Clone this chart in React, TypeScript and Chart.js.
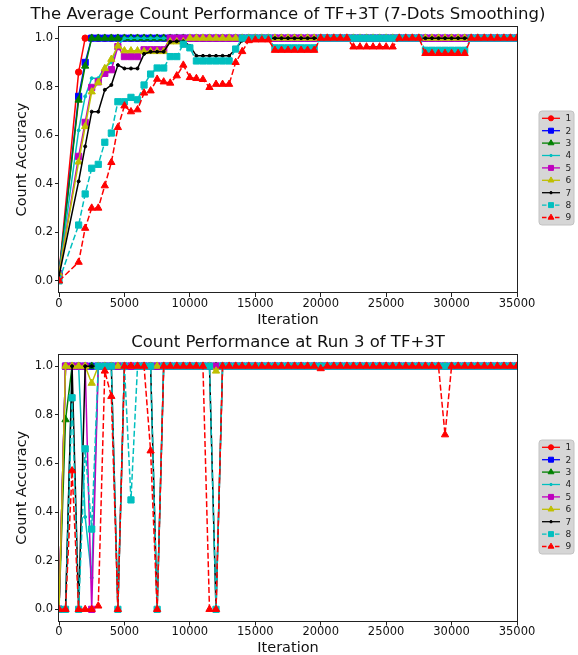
import { useEffect, useRef } from "react";
import { Chart, registerables } from "chart.js";

Chart.register(...registerables);

const FONT = "'DejaVu Sans', 'Liberation Sans', sans-serif";
Chart.defaults.font.family = FONT;

const TOP_TITLE = "The Average Count Performance of TF+3T (7-Dots Smoothing)";
const BOTTOM_TITLE = "Count Performance at Run 3 of TF+3T";
const X_LABEL = "Iteration";
const Y_LABEL = "Count Accuracy";
const SERIES_NAMES = ["1", "2", "3", "4", "5", "6", "7", "8", "9"];
const X_TICKS = [0, 5000, 10000, 15000, 20000, 25000, 30000, 35000];
const Y_TICKS = [0, 0.2, 0.4, 0.6, 0.8, 1.0];

// ---------- top chart (7-dots smoothing) ----------
const X_TOP = [
  0, 1500, 2000, 2500, 3000, 3500, 4000, 4500, 5000, 5500,
  6000, 6500, 7000, 7500, 8000, 8500, 9000, 9500, 10000, 10500,
  11000, 11500, 12000, 12500, 13000, 13500, 14000, 14500, 15000, 15500,
  16000, 16500, 17000, 17500, 18000, 18500, 19000, 19500, 20000, 20500,
  21000, 21500, 22000, 22500, 23000, 23500, 24000, 24500, 25000, 25500,
  26000, 26500, 27000, 27500, 28000, 28500, 29000, 29500, 30000, 30500,
  31000, 31500, 32000, 32500, 33000, 33500, 34000, 34500, 35000,
];
const T1 = [
  0.03, 0.86, 1, 1, 1, 1, 1, 1, 1, 1,
  1, 1, 1, 1, 1, 1, 1, 1, 1, 1,
  1, 1, 1, 1, 1, 1, 1, 1, 1, 1,
  1, 1, 1, 1, 1, 1, 1, 1, 1, 1,
  1, 1, 1, 1, 1, 1, 1, 1, 1, 1,
  1, 1, 1, 1, 1, 1, 1, 1, 1, 1,
  1, 1, 1, 1, 1, 1, 1, 1, 1,
];
const T2 = [
  0.03, 0.76, 0.9, 1, 1, 1, 1, 1, 1, 1,
  1, 1, 1, 1, 1, 1, 1, 1, 1, 1,
  1, 1, 1, 1, 1, 1, 1, 1, 1, 1,
  1, 1, 1, 1, 1, 1, 1, 1, 1, 1,
  1, 1, 1, 1, 1, 1, 1, 1, 1, 1,
  1, 1, 1, 1, 1, 1, 1, 1, 1, 1,
  1, 1, 1, 1, 1, 1, 1, 1, 1,
];
const T3 = [
  0.03, 0.745, 0.885, 1, 1, 1, 1, 1, 1, 1,
  1, 1, 1, 1, 1, 1, 1, 1, 1, 1,
  1, 1, 1, 1, 1, 1, 1, 1, 1, 1,
  1, 1, 1, 1, 1, 1, 1, 1, 1, 1,
  1, 1, 1, 1, 1, 1, 1, 1, 1, 1,
  1, 1, 1, 1, 1, 1, 1, 1, 1, 1,
  1, 1, 1, 1, 1, 1, 1, 1, 1,
];
const T4 = [
  0.03, 0.62, 0.76, 0.835, 0.835, 0.88, 0.9, 0.97, 1, 1,
  1, 1, 1, 1, 1, 1, 1, 1, 1, 1,
  1, 1, 1, 1, 1, 1, 1, 1, 1, 1,
  1, 1, 1, 1, 1, 1, 1, 1, 1, 1,
  1, 1, 1, 1, 1, 1, 1, 1, 1, 1,
  1, 1, 1, 1, 1, 1, 1, 1, 1, 1,
  1, 1, 1, 1, 1, 1, 1, 1, 1,
];
const T5 = [
  0.03, 0.513, 0.653, 0.797, 0.82, 0.855, 0.87, 0.965, 0.924, 0.924,
  0.924, 0.952, 0.952, 0.952, 0.952, 1, 1, 1, 1, 1,
  1, 1, 1, 1, 1, 1, 1, 1, 1, 1,
  1, 1, 1, 1, 1, 1, 1, 1, 1, 1,
  1, 1, 1, 1, 1, 1, 1, 1, 1, 1,
  1, 1, 1, 1, 1, 1, 1, 1, 1, 1,
  1, 1, 1, 1, 1, 1, 1, 1, 1,
];
const T6 = [
  0.03, 0.49, 0.636, 0.779, 0.817, 0.875, 0.913, 0.968, 0.948, 0.948,
  0.948, 0.945, 0.945, 0.945, 0.945, 0.985, 0.985, 0.985, 1, 1,
  1, 1, 1, 1, 1, 1, 1, 1, 1, 1,
  1, 1, 1, 1, 1, 1, 1, 1, 1, 1,
  1, 1, 1, 1, 1, 1, 1, 1, 1, 1,
  1, 1, 1, 1, 1, 1, 1, 1, 1, 1,
  1, 1, 1, 1, 1, 1, 1, 1, 1,
];
const T7 = [
  0.02, 0.41, 0.554, 0.697, 0.697, 0.787, 0.807, 0.889, 0.875, 0.875,
  0.875, 0.935, 0.944, 0.944, 0.944, 0.985, 0.987, 0.987, 0.968, 0.927,
  0.927, 0.927, 0.927, 0.927, 0.927, 0.955, 0.99, 1, 1, 1,
  1, 1, 1, 1, 1, 1, 1, 1, 1, 1,
  1, 1, 1, 1, 1, 1, 1, 1, 1, 1,
  1, 1, 1, 1, 1, 1, 1, 1, 1, 1,
  1, 1, 1, 1, 1, 1, 1, 1, 1,
];
const T8 = [
  0, 0.23, 0.358, 0.464, 0.48, 0.571, 0.609, 0.738, 0.738, 0.756,
  0.746, 0.807, 0.852, 0.877, 0.877, 0.924, 0.924, 0.975, 0.96, 0.906,
  0.906, 0.906, 0.906, 0.906, 0.906, 0.955, 1, 1, 1, 1,
  1, 0.96, 0.96, 0.96, 0.96, 0.96, 0.96, 0.96, 1, 1,
  1, 1, 1, 1, 1, 1, 1, 1, 1, 1,
  1, 1, 1, 1, 0.95, 0.95, 0.95, 0.95, 0.95, 0.95,
  0.95, 1, 1, 1, 1, 1, 1, 1, 1,
];
const T9 = [
  0, 0.077, 0.217, 0.3, 0.3, 0.392, 0.488, 0.632, 0.721, 0.697,
  0.705, 0.774, 0.783, 0.831, 0.82, 0.815, 0.845, 0.889, 0.838, 0.834,
  0.83, 0.797, 0.81, 0.81, 0.81, 0.9, 0.945, 0.99, 0.993, 0.993,
  0.993, 0.95, 0.95, 0.95, 0.95, 0.95, 0.95, 0.95, 1, 1,
  1, 1, 1, 0.964, 0.964, 0.964, 0.964, 0.964, 0.964, 0.964,
  1, 1, 1, 1, 0.937, 0.937, 0.937, 0.937, 0.937, 0.937,
  0.937, 1, 1, 1, 1, 1, 1, 1, 1,
];

// ---------- bottom chart (run 3, raw) ----------
const X_BOT = [
  0, 500, 1000, 1500, 2000, 2500, 3000, 3500, 4000, 4500,
  5000, 5500, 6000, 6500, 7000, 7500, 8000, 8500, 9000, 9500,
  10000, 10500, 11000, 11500, 12000, 12500, 13000, 13500, 14000, 14500,
  15000, 15500, 16000, 16500, 17000, 17500, 18000, 18500, 19000, 19500,
  20000, 20500, 21000, 21500, 22000, 22500, 23000, 23500, 24000, 24500,
  25000, 25500, 26000, 26500, 27000, 27500, 28000, 28500, 29000, 29500,
  30000, 30500, 31000, 31500, 32000, 32500, 33000, 33500, 34000, 34500,
  35000,
];
const B1 = [
  0, 1, 1, 1, 1, 1, 1, 1, 1, 1,
  1, 1, 1, 1, 1, 1, 1, 1, 1, 1,
  1, 1, 1, 1, 1, 1, 1, 1, 1, 1,
  1, 1, 1, 1, 1, 1, 1, 1, 1, 1,
  1, 1, 1, 1, 1, 1, 1, 1, 1, 1,
  1, 1, 1, 1, 1, 1, 1, 1, 1, 1,
  1, 1, 1, 1, 1, 1, 1, 1, 1, 1,
  1,
];
const B2 = [
  0, 1, 1, 1, 1, 1, 1, 1, 1, 1,
  1, 1, 1, 1, 1, 1, 1, 1, 1, 1,
  1, 1, 1, 1, 1, 1, 1, 1, 1, 1,
  1, 1, 1, 1, 1, 1, 1, 1, 1, 1,
  1, 1, 1, 1, 1, 1, 1, 1, 1, 1,
  1, 1, 1, 1, 1, 1, 1, 1, 1, 1,
  1, 1, 1, 1, 1, 1, 1, 1, 1, 1,
  1,
];
const B3 = [
  0, 0.78, 1, 1, 1, 1, 1, 1, 1, 1,
  1, 1, 1, 1, 1, 1, 1, 1, 1, 1,
  1, 1, 1, 1, 1, 1, 1, 1, 1, 1,
  1, 1, 1, 1, 1, 1, 1, 1, 1, 1,
  1, 1, 1, 1, 1, 1, 1, 1, 1, 1,
  1, 1, 1, 1, 1, 1, 1, 1, 1, 1,
  1, 1, 1, 1, 1, 1, 1, 1, 1, 1,
  1,
];
const B4 = [
  0, 0, 1, 1, 0.38, 0.13, 1, 1, 1, 1,
  1, 1, 1, 1, 1, 1, 1, 1, 1, 1,
  1, 1, 1, 1, 1, 1, 1, 1, 1, 1,
  1, 1, 1, 1, 1, 1, 1, 1, 1, 1,
  1, 1, 1, 1, 1, 1, 1, 1, 1, 1,
  1, 1, 1, 1, 1, 1, 1, 1, 1, 1,
  1, 1, 1, 1, 1, 1, 1, 1, 1, 1,
  1,
];
const B5 = [
  0, 1, 1, 1, 1, 0, 1, 1, 1, 1,
  1, 1, 1, 1, 1, 1, 1, 1, 1, 1,
  1, 1, 1, 1, 1, 1, 1, 1, 1, 1,
  1, 1, 1, 1, 1, 1, 1, 1, 1, 1,
  1, 1, 1, 1, 1, 1, 1, 1, 1, 1,
  1, 1, 1, 1, 1, 1, 1, 1, 1, 1,
  1, 1, 1, 1, 1, 1, 1, 1, 1, 1,
  1,
];
const B6 = [
  0, 1, 1, 1, 1, 0.93, 1, 1, 1, 1,
  1, 1, 1, 1, 1, 1, 1, 1, 1, 1,
  1, 1, 1, 1, 0.98, 1, 1, 1, 1, 1,
  1, 1, 1, 1, 1, 1, 1, 1, 1, 1,
  1, 1, 1, 1, 1, 1, 1, 1, 1, 1,
  1, 1, 1, 1, 1, 1, 1, 1, 1, 1,
  1, 1, 1, 1, 1, 1, 1, 1, 1, 1,
  1,
];
const B7 = [
  0, 0, 1, 0, 1, 1, 1, 1, 1, 0,
  1, 1, 1, 1, 1, 0, 1, 1, 1, 1,
  1, 1, 1, 1, 0, 1, 1, 1, 1, 1,
  1, 1, 1, 1, 1, 1, 1, 1, 1, 1,
  1, 1, 1, 1, 1, 1, 1, 1, 1, 1,
  1, 1, 1, 1, 1, 1, 1, 1, 1, 1,
  1, 1, 1, 1, 1, 1, 1, 1, 1, 1,
  1,
];
const B8 = [
  0, 0, 0.87, 0, 0.66, 0.33, 1, 1, 1, 0,
  1, 0.45, 1, 1, 1, 0, 1, 1, 1, 1,
  1, 1, 1, 1, 0, 1, 1, 1, 1, 1,
  1, 1, 1, 1, 1, 1, 1, 1, 1, 1,
  1, 1, 1, 1, 1, 1, 1, 1, 1, 1,
  1, 1, 1, 1, 1, 1, 1, 1, 1, 1,
  1, 1, 1, 1, 1, 1, 1, 1, 1, 1,
  1,
];
const B9 = [
  0, 0, 0.57, 0, 0, 0, 0.014, 0.98, 0.876, 0,
  1, 1, 1, 1, 0.652, 0, 1, 1, 1, 1,
  1, 1, 1, 0, 0, 1, 1, 1, 1, 1,
  1, 1, 1, 1, 1, 1, 1, 1, 1, 1,
  0.99, 1, 1, 1, 1, 1, 1, 1, 1, 1,
  1, 1, 1, 1, 1, 1, 1, 1, 1, 0.718,
  1, 1, 1, 1, 1, 1, 1, 1, 1, 1,
  1,
];

const TOP_SERIES = [T1, T2, T3, T4, T5, T6, T7, T8, T9];
const BOT_SERIES = [B1, B2, B3, B4, B5, B6, B7, B8, B9];

type Shape = "circle" | "rect" | "triangle";
const STYLE: { color: string; shape: Shape; r: number; dash: number[] }[] = [
  { color: "#ff0000", shape: "circle", r: 3.2, dash: [] },
  { color: "#0000ff", shape: "rect", r: 4.4, dash: [] },
  { color: "#008000", shape: "triangle", r: 4.2, dash: [] },
  { color: "#00bfbf", shape: "circle", r: 1.5, dash: [] },
  { color: "#bf00bf", shape: "rect", r: 4.4, dash: [] },
  { color: "#bfbf00", shape: "triangle", r: 4.2, dash: [] },
  { color: "#000000", shape: "circle", r: 1.5, dash: [] },
  { color: "#00bfbf", shape: "rect", r: 4.4, dash: [6, 2.6] },
  { color: "#ff0000", shape: "triangle", r: 4.2, dash: [6, 2.6] },
];

function drawMarker(ctx: CanvasRenderingContext2D, shape: Shape, x: number, y: number, r: number, color: string) {
  ctx.save();
  ctx.setLineDash([]);
  ctx.fillStyle = color;
  ctx.strokeStyle = color;
  ctx.lineWidth = 1;
  ctx.beginPath();
  if (shape === "circle") {
    ctx.arc(x, y, r, 0, Math.PI * 2);
  } else if (shape === "rect") {
    const s = r * Math.SQRT1_2;
    ctx.rect(x - s, y - s, 2 * s, 2 * s);
  } else {
    for (let k = 0; k < 3; k++) {
      const a = (k * 2 * Math.PI) / 3;
      const px = x + Math.sin(a) * r;
      const py = y - Math.cos(a) * r;
      if (k === 0) ctx.moveTo(px, py);
      else ctx.lineTo(px, py);
    }
    ctx.closePath();
  }
  ctx.fill();
  ctx.stroke();
  ctx.restore();
}

function decorPlugin(title: string, titleY: number, legendTop: number) {
  return {
    id: "decor",
    afterDraw(chart: any) {
      const ctx: CanvasRenderingContext2D = chart.ctx;
      const a = chart.chartArea;
      ctx.save();
      // frame (all four spines)
      ctx.strokeStyle = "#222";
      ctx.lineWidth = 1;
      ctx.setLineDash([]);
      ctx.strokeRect(Math.round(a.left) - 0.5, Math.round(a.top) + 0.5, Math.round(a.right - a.left) + 1, Math.round(a.bottom - a.top) - 1);
      // title
      ctx.fillStyle = "#111";
      ctx.font = `16.5px ${FONT}`;
      ctx.textAlign = "center";
      ctx.textBaseline = "middle";
      ctx.fillText(title, (a.left + a.right) / 2, titleY);
      // legend
      const bx = 539, bw = 35, bh = 114;
      const by = legendTop;
      ctx.beginPath();
      const rr = 3;
      ctx.moveTo(bx + rr, by);
      ctx.lineTo(bx + bw - rr, by);
      ctx.quadraticCurveTo(bx + bw, by, bx + bw, by + rr);
      ctx.lineTo(bx + bw, by + bh - rr);
      ctx.quadraticCurveTo(bx + bw, by + bh, bx + bw - rr, by + bh);
      ctx.lineTo(bx + rr, by + bh);
      ctx.quadraticCurveTo(bx, by + bh, bx, by + bh - rr);
      ctx.lineTo(bx, by + rr);
      ctx.quadraticCurveTo(bx, by, bx + rr, by);
      ctx.closePath();
      ctx.fillStyle = "#d6d6d6";
      ctx.fill();
      ctx.strokeStyle = "#c2c2c2";
      ctx.stroke();
      for (let i = 0; i < SERIES_NAMES.length; i++) {
        const st = STYLE[i];
        const y = by + 7.3 + i * 12.4;
        ctx.save();
        ctx.strokeStyle = st.color;
        ctx.lineWidth = 1.3;
        ctx.setLineDash(st.dash.length ? [4.5, 2] : []);
        ctx.beginPath();
        ctx.moveTo(542, y);
        ctx.lineTo(560, y);
        ctx.stroke();
        ctx.restore();
        drawMarker(ctx, st.shape, 551, y, st.r * 0.8, st.color);
        ctx.fillStyle = "#222";
        ctx.font = `9px ${FONT}`;
        ctx.textAlign = "left";
        ctx.textBaseline = "middle";
        ctx.fillText(SERIES_NAMES[i], 565.5, y + 0.5);
      }
      ctx.restore();
    },
  };
}

function makeConfig(xs: number[], series: number[][], title: string, o: { padTop: number; xAxisH: number; titleY: number; legendTop: number }) {
  return {
    type: "line" as const,
    data: {
      datasets: series.map((ys, i) => ({
        label: SERIES_NAMES[i],
        data: xs.map((x, j) => ({ x, y: ys[j] })),
        borderColor: STYLE[i].color,
        backgroundColor: STYLE[i].color,
        pointBackgroundColor: STYLE[i].color,
        pointBorderColor: STYLE[i].color,
        borderWidth: 1.5,
        borderDash: STYLE[i].dash,
        pointStyle: STYLE[i].shape,
        pointRadius: STYLE[i].r,
        pointHoverRadius: STYLE[i].r,
        pointBorderWidth: 1,
        tension: 0,
        fill: false,
        order: 9 - i,
      })),
    },
    options: {
      animation: false as const,
      responsive: false,
      events: [],
      layout: { padding: { left: 0, right: 61, top: o.padTop, bottom: 0 } },
      plugins: {
        legend: { display: false },
        title: { display: false },
        tooltip: { enabled: false },
      },
      scales: {
        x: {
          type: "linear" as const,
          min: 0,
          max: 35000,
          afterBuildTicks: (s: any) => {
            s.ticks = X_TICKS.map((v) => ({ value: v }));
          },
          afterFit: (s: any) => {
            s.height = o.xAxisH;
          },
          ticks: {
            font: { size: 11.5, lineHeight: 1 },
            color: "#111",
            padding: 1,
            maxRotation: 0,
            autoSkip: false,
            callback: (v: any) => String(v),
          },
          grid: { drawOnChartArea: false, drawTicks: true, tickLength: 4, tickColor: "#222", color: "#222" },
          border: { display: false },
          title: {
            display: true,
            text: X_LABEL,
            color: "#111",
            font: { size: 14.5, lineHeight: 1 },
            padding: { top: 0, bottom: 0 },
          },
        },
        y: {
          type: "linear" as const,
          min: -0.05,
          max: 1.05,
          afterBuildTicks: (s: any) => {
            s.ticks = Y_TICKS.map((v) => ({ value: v }));
          },
          afterFit: (s: any) => {
            s.width = 59;
          },
          ticks: {
            font: { size: 11.5 },
            color: "#111",
            padding: 2,
            callback: (v: any) => Number(v).toFixed(1),
          },
          grid: { drawOnChartArea: false, drawTicks: true, tickLength: 4, tickColor: "#222", color: "#222" },
          border: { display: false },
          title: {
            display: true,
            text: Y_LABEL,
            color: "#111",
            font: { size: 14.5, lineHeight: 1 },
            padding: { top: 14.5, bottom: 0 },
          },
        },
      },
    },
    plugins: [decorPlugin(title, o.titleY, o.legendTop)],
  };
}

export default function App() {
  const topRef = useRef<HTMLCanvasElement>(null);
  const botRef = useRef<HTMLCanvasElement>(null);

  useEffect(() => {
    const c1 = new Chart(
      topRef.current!,
      makeConfig(X_TOP, TOP_SERIES, TOP_TITLE, { padTop: 26, xAxisH: 34, titleY: 15, legendTop: 111 }) as any
    );
    const c2 = new Chart(
      botRef.current!,
      makeConfig(X_BOT, BOT_SERIES, BOTTOM_TITLE, { padTop: 27, xAxisH: 33.5, titleY: 16, legendTop: 113 }) as any
    );
    return () => {
      c1.destroy();
      c2.destroy();
    };
  }, []);

  return (
    <div style={{ position: "absolute", left: 0, top: 0, width: 578, height: 655, background: "#fff" }}>
      <canvas ref={topRef} width={578} height={327} style={{ position: "absolute", left: 0, top: 0, width: 578, height: 327 }} />
      <canvas ref={botRef} width={578} height={328} style={{ position: "absolute", left: 0, top: 327, width: 578, height: 328 }} />
    </div>
  );
}
